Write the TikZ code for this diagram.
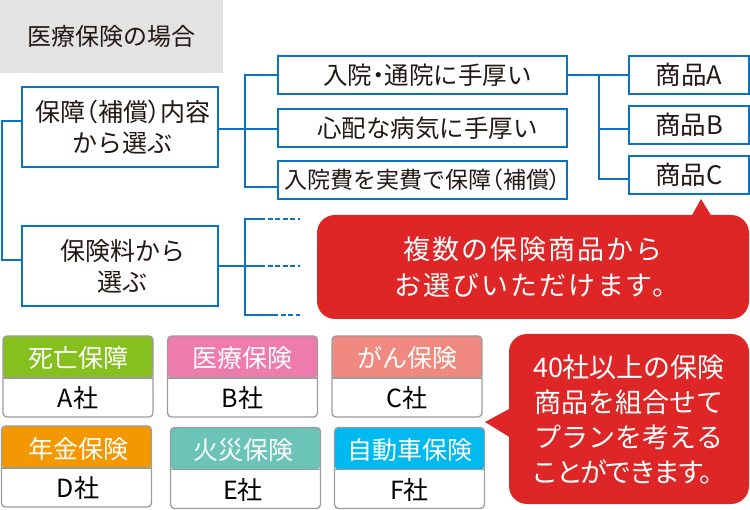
\documentclass[tikz,border=0pt]{standalone}
\usepackage{fontspec}
\setmainfont{Noto Sans CJK JP}
\newfontfamily\tightfont[RawFeature=+palt]{Noto Sans CJK JP}
\newfontfamily\widefont[LetterSpace=7]{Noto Sans CJK JP}
\newfontfamily\narrowfont[LetterSpace=-10]{Noto Sans CJK JP}
\usetikzlibrary{calc}
\definecolor{linkblue}{HTML}{0B72C4}
\definecolor{notered}{HTML}{DE2626}
\definecolor{inktext}{HTML}{231815}
\definecolor{cardgray}{HTML}{9C9C9C}
\definecolor{cardgreen}{HTML}{86C01E}
\definecolor{cardpink}{HTML}{EE7BAE}
\definecolor{cardsalmon}{HTML}{F08A80}
\definecolor{cardorange}{HTML}{F39800}
\definecolor{cardteal}{HTML}{6CC4B8}
\definecolor{cardcyan}{HTML}{00B9EF}
\tikzset{
  link/.style={draw=linkblue,line width=1.7pt},
  choice/.style={draw=linkblue,line width=1.7pt,fill=white,text=inktext,inner sep=0pt,
    minimum width=196pt,minimum height=80pt,align=center,font=\fontsize{25}{31}\selectfont},
  option/.style={draw=linkblue,line width=1.7pt,fill=white,text=inktext,inner sep=0pt,
    minimum width=289pt,minimum height=38pt,font=\fontsize{24.5}{28}\selectfont},
  product/.style={draw=linkblue,line width=1.7pt,fill=white,text=inktext,inner sep=0pt,
    minimum width=120pt,minimum height=38pt,font=\fontsize{25.5}{28}\selectfont},
  note/.style={fill=notered,rounded corners=18pt,text=white,inner sep=0pt,align=center},
  card/.style={draw=cardgray,line width=1.3pt,fill=white,rounded corners=4pt,inner sep=0pt,
    minimum width=150pt,minimum height=81pt,
    path picture={
      \fill[#1] (path picture bounding box.north west) rectangle
        ($(path picture bounding box.east)+(0,-1.5pt)$);
      \draw[cardgray,line width=1.3pt] ($(path picture bounding box.west)+(0,-1.5pt)$) --
        ($(path picture bounding box.east)+(0,-1.5pt)$);
    }},
  cardtitle/.style={text=white,inner sep=0pt,font=\fontsize{25}{28}\selectfont},
  cardname/.style={text=black,inner sep=0pt,font=\fontsize{25}{28}\selectfont}
}
\begin{document}
\begin{tikzpicture}[x=1pt,y=-1pt]
\useasboundingbox (0,0) rectangle (750,510);
% Heading
\node[fill=black!11,minimum width=223pt,minimum height=73pt,inner sep=0pt,text=inktext,
  font=\fontsize{24}{28}\selectfont] (heading) at (111.5,36.5) {医療保険の場合};
% Boxes of the two ways to choose
\node[choice] (content) at (120,127)
  {\hspace*{6pt}保障{\tightfont （}補償{\tightfont ）}内容\\\hspace*{6pt}から選ぶ};
\node[choice] (premium) at (120,266) {\hspace*{6pt}保険料から\\\hspace*{6pt}選ぶ};
% Boxes of the three needs
\node[option] (inpatient) at (422.5,75) {\hspace*{10pt}入院{\tightfont ・}通院に手厚い};
\node[option] (illness) at (422.5,128) {\hspace*{10pt}心配な病気に手厚い};
\node[option,font=\fontsize{23}{28}\selectfont] (actual) at (422.5,180)
  {入院費を実費で保障{\tightfont （}補償{\tightfont ）}};
% Boxes of the products
\node[product] (productA) at (689,75) {商品A};
\node[product] (productB) at (689,125) {商品B};
\node[product] (productC) at (689,175) {商品C};
% Points where the lines turn
\coordinate (left1) at (2,121);
\coordinate (left2) at (2,260);
\coordinate (bus1) at (245,129);
\coordinate (bus1end) at (245,187);
\coordinate (bus2) at (245,266);
\coordinate (bus3) at (599,75);
\coordinate (bus3mid) at (599,129);
\coordinate (bus3end) at (599,179);
% Draw the lines between the boxes
\draw[link] (left1 -| content.west) -- (left1) -- (left2) -- (left2 -| premium.west);
\draw[link] (content.east |- bus1) -- (bus1);
\draw[link] (inpatient.west) -| (bus1end) -- (bus1end -| actual.west);
\draw[link] (bus1) -- (bus1 -| illness.west);
\draw[link] (inpatient.east) -- (productA.west);
\draw[link] (bus3) -- (bus3end) -- (bus3end -| productC.west);
\draw[link] (bus3mid) -- (bus3mid -| productB.west);
% Draw the lines that fade into dashes
\coordinate (top1) at (245,219);
\coordinate (top2) at (260,219);
\coordinate (top3) at (300,219);
\coordinate (mid2) at (260,266);
\coordinate (mid3) at (300,266);
\coordinate (low1) at (245,315);
\coordinate (low2) at (273,315);
\coordinate (low3) at (300,315);
\draw[link] (premium.east |- bus2) -- (mid2);
\draw[link] (top2) -- (top1) -- (low1) -- (low2);
\draw[link,dash pattern=on 5pt off 2.5pt] (top2) -- (top3);
\draw[link,dash pattern=on 5pt off 2.5pt] (mid2) -- (mid3);
\draw[link,dash pattern=on 5pt off 2.5pt] (low2) -- (low3);
% Red notes with their pointers
\coordinate (tip1) at (701,199);
\coordinate (tip2) at (485,422);
\fill[notered] (tip1) -- (691,217) -- (712,217) -- cycle;
\node[note,minimum width=432pt,minimum height=104pt,
  font=\widefont\fontsize{27}{36}\selectfont] (note1) at (533,267)
  {複数の保険商品から\\\hspace*{8pt}お選びいただけます。};
\fill[notered] (tip2) -- (511,408) -- (511,438) -- cycle;
\node[note,minimum width=240pt,minimum height=170pt,
  font=\fontsize{27}{35}\selectfont] (note2) at (629,419)
  {40社以上の保険\\商品を組合せて\\プランを考える\\{\narrowfont ことができます。}};
% Cards of the insurance companies
\node[card=cardgreen] (cardA) at (78,376.5) {};
\node[card=cardpink] (cardB) at (242.5,376.5) {};
\node[card=cardsalmon] (cardC) at (407,376.5) {};
\node[card=cardorange] (cardD) at (76.5,466.5) {};
\node[card=cardteal] (cardE) at (245.5,468) {};
\node[card=cardcyan] (cardF) at (409.5,468) {};
% Texts of the cards
\node[cardtitle] (titleA) at (78,358) {死亡保障};
\node[cardtitle] (titleB) at (242.5,358) {医療保険};
\node[cardtitle] (titleC) at (407,358) {がん保険};
\node[cardtitle] (titleD) at (78,449) {年金保険};
\node[cardtitle] (titleE) at (243,450) {火災保険};
\node[cardtitle] (titleF) at (409.5,450) {自動車保険};
\node[cardname] (nameA) at (78,398) {A社};
\node[cardname] (nameB) at (242.5,398) {B社};
\node[cardname] (nameC) at (407,398) {C社};
\node[cardname] (nameD) at (78,488) {D社};
\node[cardname] (nameE) at (243,490) {E社};
\node[cardname] (nameF) at (409.5,490) {F社};
\end{tikzpicture}
\end{document}
